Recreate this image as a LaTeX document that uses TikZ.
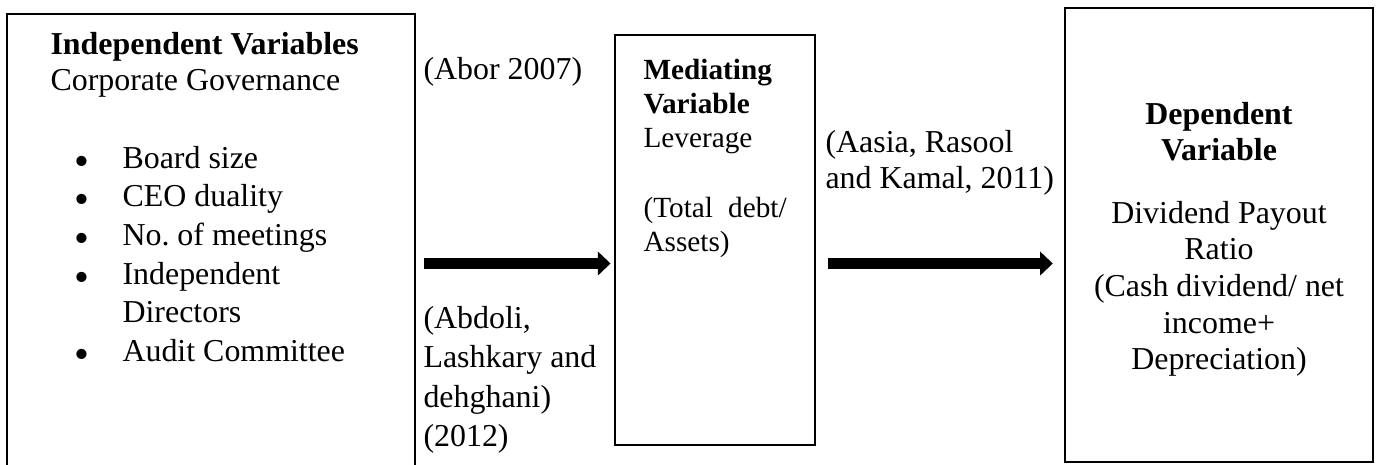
\documentclass[tikz,border=0pt]{standalone}
\usepackage{fontspec}
\setmainfont{Liberation Serif}
\usetikzlibrary{arrows.meta,positioning}

\newcommand{\bul}{\makebox[17.3pt][l]{\hspace*{-.6pt}{\fontsize{16}{16}\selectfont\raisebox{-2.7pt}{\textbullet}}}}
\newcommand{\nobul}{\hspace*{17.3pt}}
% lines of a block, baseline on the first one
\newcommand{\txtlines}[2][l]{\begin{tabular}[t]{@{}#1@{}}#2\end{tabular}}

\begin{document}
\begin{tikzpicture}[
  x=0.376pt, y=-0.376pt,
  box/.style={draw, line width=.65pt, inner sep=0pt},
  txt/.style={inner sep=0pt, anchor=base west},
  ctxt/.style={inner sep=0pt, anchor=base},
  small/.style={font=\fontsize{11}{12.8}\selectfont},
  flow/.style={-{Triangle[length=4.8pt,width=8.8pt]}, line width=4.1pt}
]
\useasboundingbox (0,0) rectangle (1378,464);
\clip (0,0) rectangle (1378,464);

% the three variable boxes
\node[box, minimum width=153.4pt, minimum height=187.6pt] (indep) at (211,263.5) {};
\node[box, line width=.75pt, minimum width=75.2pt, minimum height=154.2pt] (medi) at (715,240) {};
\node[box, line width=1pt, minimum width=115.8pt, minimum height=170.7pt] (depv) at (1219,235) {};

% independent side
\node[txt, font=\fontsize{12}{13.9}\selectfont] (ivhead) at (50,54) {\txtlines{\textbf{Independent Variables}\\Corporate Governance}};
\node[txt, font=\fontsize{12}{14.55}\selectfont] (ivlist) at (76,168) {\txtlines{\bul Board size\\\bul CEO duality\\\bul No.\ of meetings\\\bul Independent\\\nobul Directors\\\bul Audit Committee}};

% citations along the paths
\node[txt, font=\fontsize{12}{14.6}\selectfont] (abor) at (423,79) {(Abor 2007)};
\node[txt, font=\fontsize{12}{14.85}\selectfont] (abdoli) at (423,328) {\txtlines{(Abdoli,\\Lashkary and\\dehghani)\\(2012)}};
\node[txt, font=\fontsize{12}{13.6}\selectfont] (aasia) at (825,152) {\txtlines{(Aasia, Rasool\\and Kamal, 2011)}};

% mediating box
\node[txt, small] (medhead) at (643,79) {\txtlines{\textbf{Mediating}\\\textbf{Variable}\\Leverage}};
\node[txt, small] (medbody) at (643,217) {\txtlines{\makebox[53.8pt][l]{(Total\hfill debt/}\\Assets)}};

% dependent box
\node[ctxt, font=\fontsize{12}{13.9}\selectfont] (dephead) at (1219,124) {\txtlines[c]{\textbf{Dependent}\\\textbf{Variable}}};
\node[ctxt, font=\fontsize{12}{13.8}\selectfont] (depbody) at (1219,223) {\txtlines[c]{Dividend Payout\\Ratio\\(Cash dividend/ net\\income+\\Depreciation)}};

% paths
\draw[flow, shorten <=3pt, shorten >=1.3pt] (indep.east) -- (indep.east -| medi.west);
\draw[flow, shorten <=4.5pt, shorten >=4.1pt] (medi.east |- indep.east) -- (depv.west |- indep.east);
\end{tikzpicture}
\end{document}
